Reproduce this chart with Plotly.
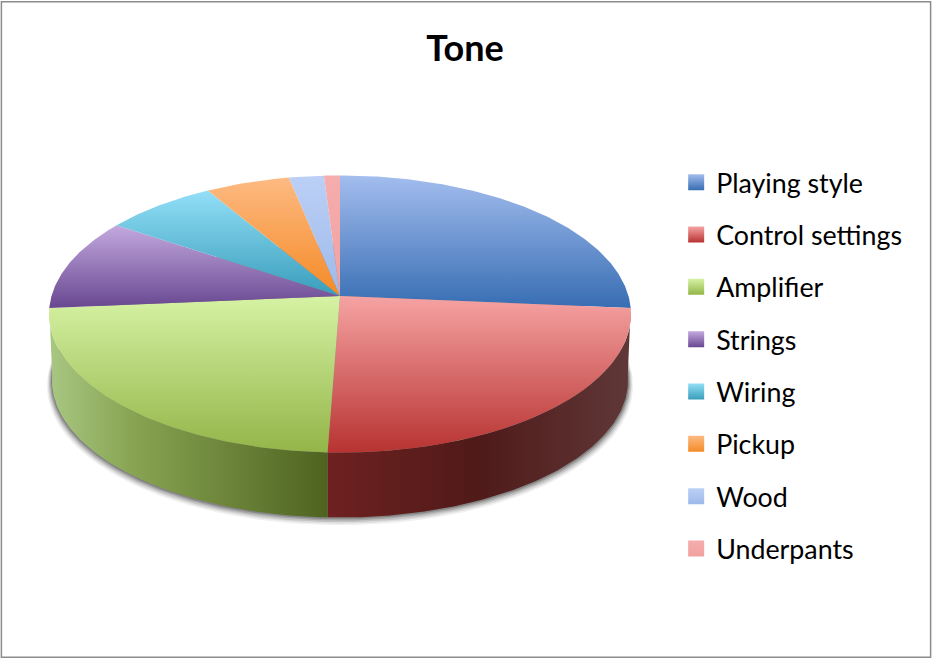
import numpy as np
import plotly.graph_objects as go

# ---- data ----
categories = ["Playing style", "Control settings", "Amplifier", "Strings", "Wiring", "Pickup", "Wood", "Underpants"]
values = [26.4, 24.2, 23.0, 10.8, 7.1, 5.3, 2.2, 1.0]
top_colors = ["#a3bdee", "#f6a3a3", "#d6f2a4", "#c3a9df", "#93dff7", "#fdba82", "#bcd0f6", "#f6adad"]
bottom_colors = ["#376db3", "#b73331", "#93b548", "#684790", "#389dbb", "#f58a26", "#9db9ea", "#f2a0a0"]
chart_title = "Tone"

# ---- projection of the disc on to the page (perspective view) ----
CX, CY, R, A, K = 340.0, 296.0, 288.5, 136.2, 0.13
DEPTH, LOWER_SCALE = 66.5, 0.99


def project(theta, scale=1.0, drop=0.0):
    X, Y = np.sin(theta), np.cos(theta)
    w = 1 + K * Y
    return CX + scale * R * X / w, CY - scale * A * Y / w + drop


fractions = np.array(values) / sum(values)
edges = np.concatenate([[0], np.cumsum(fractions)]) * 2 * np.pi


def arc(a, b):
    return np.linspace(a, b, max(int(abs(b - a) * 90), 8))


fig = go.Figure()

# soft shadow
theta = np.linspace(0, 2 * np.pi, 360)
for grow, drop, alpha in [(5, 5, 0.06), (4, 4, 0.08), (3, 3, 0.11), (2, 2, 0.15), (1, 1, 0.20)]:
    sx, sy = project(theta, LOWER_SCALE + grow / R, DEPTH + drop)
    fig.add_trace(go.Scatter(x=sx, y=sy, mode="lines", fill="toself", line=dict(width=0),
                             fillcolor=f"rgba(0,0,0,{alpha})", hoverinfo="skip", showlegend=False))

# side walls of the two front slices
wall_scales = {
    1: [[0, "#6e2120"], [0.5, "#4f1a19"], [1, "#603838"]],
    2: [[0, "#a8c782"], [0.3, "#88a452"], [1, "#4e6320"]],
}
for i, scale in wall_scales.items():
    t = arc(edges[i], edges[i + 1])
    ux, uy = project(t)
    lx, ly = project(t[::-1], LOWER_SCALE, DEPTH)
    px, py = np.concatenate([ux, lx]), np.concatenate([uy, ly])
    fig.add_trace(go.Scatter(x=px, y=py, mode="lines", fill="toself", line=dict(width=0),
                             fillgradient=dict(type="horizontal", colorscale=scale,
                                               start=float(px.min()), stop=float(px.max())),
                             hoverinfo="skip", showlegend=False))

# top face slices
for i, name in enumerate(categories):
    t = arc(edges[i], edges[i + 1])
    ax, ay = project(t)
    px = np.concatenate([[CX], ax, [CX]])
    py = np.concatenate([[CY], ay, [CY]])
    fig.add_trace(go.Scatter(x=px, y=py, mode="lines", fill="toself", line=dict(width=0),
                             fillgradient=dict(type="vertical",
                                               colorscale=[[0, top_colors[i]], [1, bottom_colors[i]]],
                                               start=float(py.min()), stop=float(py.max())),
                             name=name, hoverinfo="name", showlegend=False))

# legend entries
for i, name in enumerate(categories):
    fig.add_trace(go.Scatter(x=[None], y=[None], mode="markers", name=name, legendgroup=name,
                             marker=dict(symbol="square", size=16, color=top_colors[i],
                                         gradient=dict(type="vertical", color=bottom_colors[i]))))

fig.update_layout(
    width=932, height=659, autosize=False,
    margin=dict(l=0, r=0, t=0, b=0),
    paper_bgcolor="white", plot_bgcolor="white",
    font=dict(family="Lato, Open Sans, sans-serif", color="#000000"),
    title=dict(text=f"<b>{chart_title}</b>", x=0.499, xanchor="center", y=0.927, yanchor="middle",
               font=dict(size=36, color="#000000")),
    xaxis=dict(range=[0, 932], visible=False, fixedrange=True),
    yaxis=dict(range=[659, 0], visible=False, fixedrange=True),
    legend=dict(x=0.7255, xanchor="left", y=0.445, yanchor="middle", font=dict(size=26.8),
                tracegroupgap=14.5, bgcolor="rgba(0,0,0,0)", itemclick=False, itemdoubleclick=False),
    shapes=[dict(type="rect", xref="paper", yref="paper", x0=0.0015, x1=0.9985, y0=0.0025, y1=0.9975,
                 line=dict(color="#8c8c8c", width=1.5), fillcolor="rgba(0,0,0,0)")],
)

fig.write_html("out.html", config={"displayModeBar": False},
               post_script="document.body.style.margin='0';document.documentElement.style.overflow='hidden';")
